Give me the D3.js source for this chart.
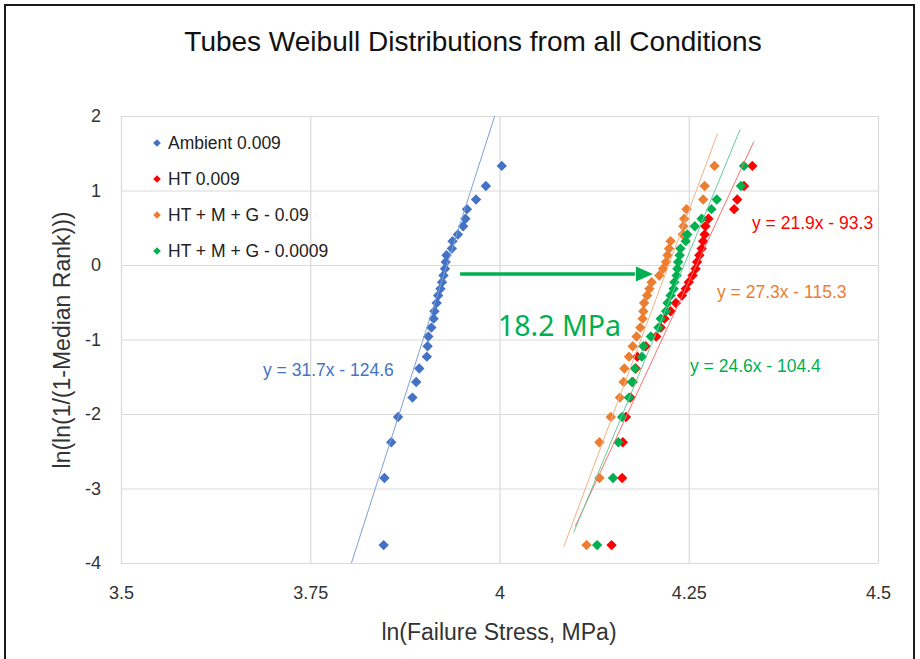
<!DOCTYPE html>
<html>
<head>
<meta charset="utf-8">
<script src="https://cdn.jsdelivr.net/npm/d3@7/dist/d3.min.js"></script>
<style>
  html, body { margin: 0; padding: 0; background: #fff; }
  svg { display: block; font-family: "Liberation Sans", Arial, sans-serif; }
</style>
</head>
<body>
<svg id="chart" width="920" height="659"></svg>
<script>
// ---------------- DATA ----------------
const seriesNames = ["Ambient 0.009", "HT 0.009", "HT + M + G - 0.09", "HT + M + G - 0.0009"];

// ln(ln(1/(1-Median Rank))) for the 30 ranked specimens (shared by every series)
const rankY = [-3.76, -2.86, -2.38, -2.04, -1.78, -1.57, -1.39, -1.23, -1.09, -0.96,
               -0.84, -0.72, -0.62, -0.51, -0.41, -0.32, -0.23, -0.14, -0.05, 0.04,
                0.13, 0.22, 0.32, 0.41, 0.52, 0.62, 0.75, 0.88, 1.06, 1.33];

// ln(Failure Stress, MPa), sorted, one per rank
const ambientX = [3.847, 3.848, 3.857, 3.866, 3.885, 3.890, 3.894, 3.904, 3.905, 3.906,
                  3.910, 3.913, 3.914, 3.917, 3.919, 3.922, 3.924, 3.926, 3.928, 3.929,
                  3.930, 3.937, 3.938, 3.945, 3.952, 3.955, 3.957, 3.969, 3.982, 4.003];
const htX      = [4.148, 4.162, 4.163, 4.167, 4.173, 4.176, 4.180, 4.182, 4.193, 4.207,
                  4.213, 4.218, 4.226, 4.233, 4.241, 4.246, 4.250, 4.255, 4.259, 4.261,
                  4.264, 4.267, 4.269, 4.271, 4.272, 4.276, 4.310, 4.314, 4.323, 4.334];
const hmg09X   = [4.115, 4.132, 4.132, 4.147, 4.159, 4.164, 4.165, 4.171, 4.176, 4.181,
                  4.186, 4.189, 4.190, 4.191, 4.195, 4.198, 4.201, 4.211, 4.216, 4.220,
                  4.222, 4.224, 4.226, 4.242, 4.243, 4.244, 4.247, 4.269, 4.271, 4.284];
const hmg0009X = [4.129, 4.150, 4.157, 4.162, 4.171, 4.175, 4.179, 4.188, 4.190, 4.200,
                  4.210, 4.213, 4.220, 4.222, 4.226, 4.230, 4.231, 4.234, 4.235, 4.236,
                  4.238, 4.239, 4.246, 4.248, 4.258, 4.267, 4.280, 4.287, 4.319, 4.323];

// linear trendlines y = a x + b
const trendSlope     = [31.7, 21.9, 27.3, 24.6];
const trendIntercept = [-124.6, -93.3, -115.3, -104.4];
const trendXStart    = [3.8044, 4.100, 4.085, 4.098];
const trendXEnd      = [3.9937, 4.336, 4.288, 4.318];
const equationLabels = ["y = 31.7x - 124.6", "y = 21.9x - 93.3", "y = 27.3x - 115.3", "y = 24.6x - 104.4"];

const xTicks = [3.5, 3.75, 4, 4.25, 4.5];
const xTickLabels = ["3.5", "3.75", "4", "4.25", "4.5"];
const yTicks = [-4, -3, -2, -1, 0, 1, 2];
const yTickLabels = ["-4", "-3", "-2", "-1", "0", "1", "2"];

const shiftFrom = 3.94, shiftTo = 4.20, shiftY = -0.12;   // arrow, in data units
const shiftLabel = "18.2 MPa";

// ---------------- STYLE / LAYOUT ----------------
const colors = ["#4472C4", "#FF0000", "#ED7D31", "#00B050"];
const lineColors = ["#7F9FD8", "#FF6F6F", "#F5B183", "#66CC99"];
const plot = { left: 121, right: 878, top: 116, bottom: 563 };
const eqPos = [ {x: 263, y: 376}, {x: 752, y: 229}, {x: 717, y: 298}, {x: 690, y: 372} ];

const seriesX = [ambientX, htX, hmg09X, hmg0009X];

const svg = d3.select("#chart");

// outer frame
svg.append("rect").attr("x", 5).attr("y", 5).attr("width", 909).attr("height", 700)
   .attr("fill", "#fff").attr("stroke", "#1a1a1a").attr("stroke-width", 2);

const x = d3.scaleLinear().domain([3.5, 4.5]).range([plot.left, plot.right]);
const y = d3.scaleLinear().domain([-4, 2]).range([plot.bottom, plot.top]);

// gridlines
const gx = svg.append("g").attr("transform", `translate(0,${plot.bottom})`)
  .call(d3.axisBottom(x).tickValues(xTicks).tickSize(-(plot.bottom - plot.top)).tickFormat(""));
gx.select(".domain").remove();
gx.selectAll("line").attr("stroke", "#d9d9d9").attr("stroke-width", 1.2);

const gy = svg.append("g").attr("transform", `translate(${plot.left},0)`)
  .call(d3.axisLeft(y).tickValues(yTicks).tickSize(-(plot.right - plot.left)).tickFormat(""));
gy.select(".domain").remove();
gy.selectAll("line").attr("stroke", "#d9d9d9").attr("stroke-width", 1.2);

// tick labels
const ax = svg.append("g").attr("transform", `translate(0,${plot.bottom + 14})`)
  .call(d3.axisBottom(x).tickValues(xTicks).tickSize(0).tickFormat((d, i) => xTickLabels[i]));
ax.select(".domain").remove();
ax.selectAll("text").attr("font-size", 18).attr("fill", "#333")
  .attr("font-family", "Liberation Sans, Arial, sans-serif").attr("dy", "1.05em");

const ay = svg.append("g").attr("transform", `translate(${plot.left - 17},0)`)
  .call(d3.axisLeft(y).tickValues(yTicks).tickSize(0).tickFormat((d, i) => yTickLabels[i]));
ay.select(".domain").remove();
ay.selectAll("text").attr("font-size", 18).attr("fill", "#333")
  .attr("font-family", "Liberation Sans, Arial, sans-serif");

// titles
svg.append("text").attr("x", 473).attr("y", 51).attr("text-anchor", "middle")
  .attr("font-size", 28).attr("fill", "#111").text("Tubes Weibull Distributions from all Conditions");
svg.append("text").attr("x", 499).attr("y", 640).attr("text-anchor", "middle")
  .attr("font-size", 23).attr("fill", "#333").text("ln(Failure Stress, MPa)");
svg.append("text").attr("transform", "translate(70,340) rotate(-90)").attr("text-anchor", "middle")
  .attr("font-size", 23).attr("fill", "#333").text("ln(ln(1/(1-Median Rank)))");

// clip
svg.append("clipPath").attr("id", "plotclip").append("rect")
  .attr("x", plot.left).attr("y", plot.top).attr("width", plot.right - plot.left).attr("height", plot.bottom - plot.top);

const diamond = r => `M0,${-r}L${r},0L0,${r}L${-r},0Z`;

// markers
seriesX.forEach((xs, s) => {
  svg.append("g").selectAll("path").data(xs.map((v, i) => [v, rankY[i]])).join("path")
    .attr("d", diamond(5.2))
    .attr("transform", d => `translate(${x(d[0])},${y(d[1])})`)
    .attr("fill", colors[s]);
});

// trendlines
const line = d3.line().x(d => x(d[0])).y(d => y(d[1]));
trendSlope.forEach((a, s) => {
  const b = trendIntercept[s];
  const pts = [trendXStart[s], trendXEnd[s]].map(v => [v, a * v + b]);
  svg.append("path").attr("d", line(pts)).attr("clip-path", "url(#plotclip)")
    .attr("fill", "none").attr("stroke", lineColors[s]).attr("stroke-width", 1);
});

// equation labels
equationLabels.forEach((t, s) => {
  svg.append("text").attr("x", eqPos[s].x).attr("y", eqPos[s].y)
    .attr("font-size", 17.5).attr("fill", colors[s]).text(t);
});

// legend
seriesNames.forEach((n, s) => {
  const cy = 143 + s * 36;
  svg.append("path").attr("d", diamond(3.8)).attr("transform", `translate(157,${cy})`).attr("fill", colors[s]);
  svg.append("text").attr("x", 168).attr("y", cy + 6).attr("font-size", 17.5).attr("fill", "#222").text(n);
});

// shift arrow
const ay0 = y(shiftY);
svg.append("line").attr("x1", x(shiftFrom) + 6).attr("x2", x(shiftTo) - 16).attr("y1", ay0).attr("y2", ay0)
  .attr("stroke", colors[3]).attr("stroke-width", 3.5);
const tip = x(shiftTo) + 2;
svg.append("path").attr("d", `M${tip},${ay0}L${tip - 17},${ay0 - 7.5}L${tip - 17},${ay0 + 7.5}Z`).attr("fill", colors[3]);
svg.append("text").attr("x", 498).attr("y", 336).attr("font-family", "Noto Sans, Open Sans, sans-serif")
  .attr("font-size", 28.5).attr("fill", colors[3]).text(shiftLabel);
</script>
</body>
</html>
